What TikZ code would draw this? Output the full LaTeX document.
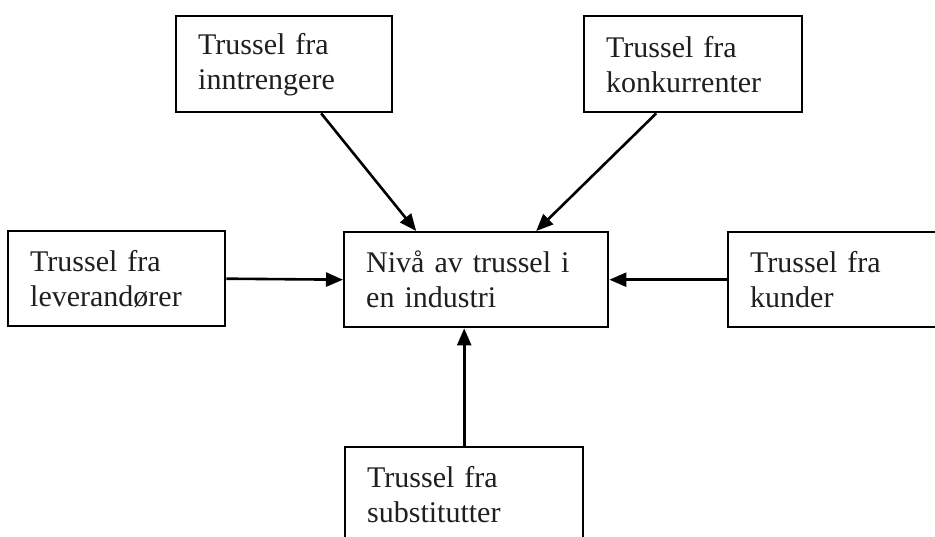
\documentclass[tikz,border=0pt]{standalone}
\usepackage{fontspec}
\setmainfont{Liberation Serif}
\usetikzlibrary{arrows.meta}
\begin{document}
\begin{tikzpicture}[x=1pt,y=-1pt,
  box/.style={draw, line width=2.4pt, anchor=north west, minimum height=95pt,
    inner xsep=22pt, inner ysep=0pt, align=left, text=black!88,
    font=\fontsize{30}{35}\selectfont},
  arr/.style={line width=2.6pt, -{Triangle[length=17pt,width=14pt]}}]
\useasboundingbox[fill=white] (0,0) rectangle (935,537);
\node[box, text width=172pt, minimum height=96pt] (tl) at (175,15) {Trussel fra\\inntrengere};
\node[box, text width=174pt, minimum height=96pt] (tr) at (583,15) {Trussel fra\\konkurrenter};
\node[box, text width=173pt] (l) at (7,230) {Trussel fra\\leverandører};
\node[box, text width=220pt] (c) at (343,231) {Nivå av trussel i\\en industri};
\node[box, text width=173pt] (r) at (727,231) {Trussel fra\\kunder};
\node[box, text width=194pt] (b) at (344,446) {Trussel fra\\substitutter};
\draw[arr] ([xshift=37pt]tl.south) -- ([xshift=-60pt]c.north);
\draw[arr] ([xshift=-37pt]tr.south) -- ([xshift=60pt]c.north);
\draw[arr] (l.east) -- (c.west);
\draw[arr] (r.west) -- (c.east);
\draw[arr] (b.north) -- (b.north |- c.south);
\end{tikzpicture}
\end{document}
